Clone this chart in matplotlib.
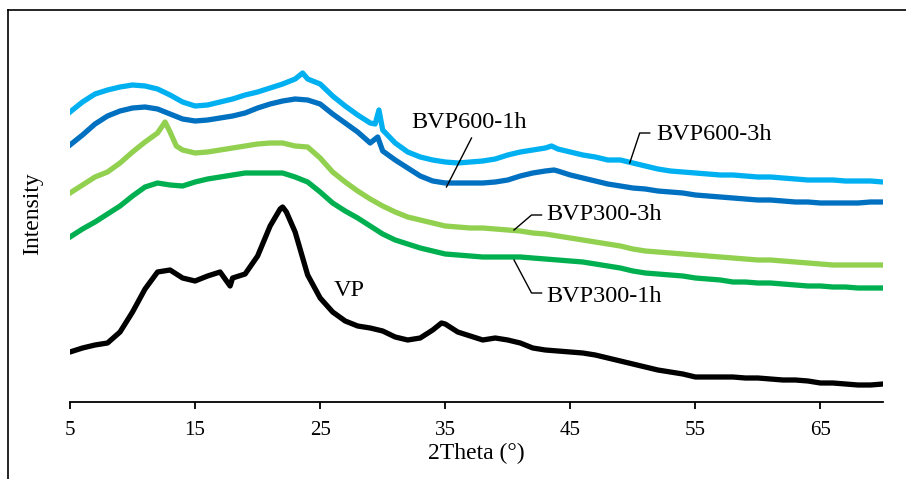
import matplotlib
matplotlib.use('Agg')
import matplotlib.pyplot as plt
from matplotlib.lines import Line2D
import numpy as np

plt.rcParams['font.family'] = ['Liberation Serif', 'DejaVu Serif']

# XRD patterns, (2theta, intensity a.u.)
vp = [(5, 50), (6, 54), (7, 57), (8, 59), (9, 70), (10, 90), (11, 113), (12, 130), (13, 132),
      (14, 124), (15, 121), (16, 126), (17, 130), (17.8, 116), (18, 124), (19, 128), (20, 146),
      (21, 176), (21.8, 193), (22, 195), (22.3, 190), (23, 170), (24, 127), (25, 104), (26, 90),
      (27, 81), (28, 76), (29, 74), (30, 71), (31, 65), (32, 62), (33, 64), (34, 72), (34.7, 79),
      (35, 78), (36, 70), (37, 66), (38, 62), (39, 64), (40, 62), (41, 59), (42, 54), (43, 52),
      (44, 51), (45, 50), (46, 49), (47, 47), (48, 44), (49, 41), (50, 38), (51, 35), (52, 32),
      (53, 30), (54, 28), (55, 25), (56, 25), (57, 25), (58, 25), (59, 24), (60, 24), (61, 23),
      (62, 22), (63, 22), (64, 21), (65, 19), (66, 19), (67, 18), (68, 17), (69, 17), (70, 18)]

bvp300_1h = [(5, 165), (6, 173), (7, 180), (8, 188), (9, 196), (10, 206), (11, 215), (12, 219),
             (13, 217), (14, 216), (15, 220), (16, 223), (17, 225), (18, 227), (19, 229), (20, 229),
             (21, 229), (22, 229), (23, 225), (24, 220), (25, 210), (26, 199), (27, 191), (28, 184),
             (29, 176), (30, 168), (31, 162), (32, 158), (33, 154), (34, 151), (35, 148), (36, 147),
             (37, 146), (38, 145), (39, 145), (40, 145), (41, 145), (42, 144), (43, 143), (44, 142),
             (45, 141), (46, 140), (47, 138), (48, 136), (49, 134), (50, 131), (51, 129), (52, 128),
             (53, 127), (54, 126), (55, 124), (56, 123), (57, 122), (58, 120), (59, 120), (60, 119),
             (61, 119), (62, 118), (63, 117), (64, 116), (65, 116), (66, 115), (67, 115), (68, 114),
             (69, 114), (70, 114)]

bvp300_3h = [(5, 209), (6, 217), (7, 225), (8, 230), (9, 239), (10, 250), (11, 260), (12, 269),
             (12.6, 280), (13, 270), (13.5, 256), (14, 252), (15, 249), (16, 250), (17, 252),
             (18, 254), (19, 256), (20, 258), (21, 259), (22, 259), (23, 256), (24, 255), (25, 244),
             (26, 230), (27, 220), (28, 211), (29, 203), (30, 196), (31, 190), (32, 185), (33, 182),
             (34, 179), (35, 176), (36, 175), (37, 174), (38, 174), (39, 173), (40, 172), (41, 171),
             (42, 169), (43, 168), (44, 166), (45, 164), (46, 162), (47, 160), (48, 158), (49, 156),
             (50, 153), (51, 151), (52, 150), (53, 149), (54, 148), (55, 147), (56, 146), (57, 145),
             (58, 144), (59, 143), (60, 142), (61, 142), (62, 141), (63, 140), (64, 139), (65, 138),
             (66, 137), (67, 137), (68, 137), (69, 137), (70, 137)]

bvp600_1h = [(5, 257), (6, 267), (7, 278), (8, 286), (9, 291), (10, 294), (11, 295), (12, 293),
             (13, 288), (14, 283), (15, 281), (16, 282), (17, 284), (18, 286), (19, 289), (20, 294),
             (21, 298), (22, 301), (23, 303), (24, 302), (25, 298), (26, 288), (27, 279), (28, 270),
             (29, 259), (29.6, 265), (30, 251), (31, 242), (32, 234), (33, 226), (34, 221), (35, 219),
             (36, 219), (37, 219), (38, 219), (39, 220), (40, 222), (41, 226), (42, 229), (43, 231),
             (43.7, 232), (44, 231), (45, 227), (46, 224), (47, 221), (48, 218), (49, 216), (50, 214),
             (51, 213), (52, 211), (53, 210), (54, 209), (55, 207), (56, 206), (57, 205), (58, 204),
             (59, 203), (60, 202), (61, 202), (62, 201), (63, 200), (64, 200), (65, 199), (66, 199),
             (67, 199), (68, 199), (69, 200), (70, 200)]

bvp600_3h = [(5, 290), (6, 300), (7, 308), (8, 312), (9, 315), (10, 317), (11, 316), (12, 313),
             (13, 307), (14, 300), (15, 296), (16, 297), (17, 300), (18, 303), (19, 307), (20, 310),
             (21, 314), (22, 318), (23, 323), (23.6, 329), (24, 323), (25, 318), (26, 306), (27, 296),
             (28, 287), (29, 279), (29.4, 278), (29.7, 292), (30, 272), (31, 259), (32, 250),
             (33, 245), (34, 242), (35, 240), (36, 239), (37, 240), (38, 241), (39, 243), (40, 247),
             (41, 250), (42, 252), (43, 254), (43.5, 256), (44, 253), (45, 250), (46, 247), (47, 245),
             (48, 242), (49, 242), (50, 239), (51, 236), (52, 233), (53, 231), (54, 230), (55, 229),
             (56, 228), (57, 227), (58, 227), (59, 226), (60, 225), (61, 225), (62, 224), (63, 223),
             (64, 222), (65, 222), (66, 222), (67, 221), (68, 221), (69, 221), (70, 220)]

series = [
    (vp, '#000000'),
    (bvp300_1h, '#00B050'),
    (bvp300_3h, '#92D050'),
    (bvp600_1h, '#0070C0'),
    (bvp600_3h, '#00B0F0'),
]

xticks = [5, 15, 25, 35, 45, 55, 65]

W, H = 906, 479
fig = plt.figure(figsize=(W / 100, H / 100), dpi=100)
ax = fig.add_axes([70 / W, 1 - 402 / H, (883 - 70) / W, (402 - 30) / H])

for data, color in series:
    arr = np.array(data, dtype=float)
    ax.plot(arr[:, 0], arr[:, 1], color=color, lw=3.8, solid_joinstyle='round')

ax.set_xlim(5, 70)
ax.set_ylim(0, 372)
ax.set_xticks(xticks)
ax.set_yticks([])
for side in ('top', 'right', 'left'):
    ax.spines[side].set_visible(False)
ax.spines['bottom'].set_linewidth(1.3)
ax.tick_params(axis='x', direction='out', length=5, width=1.3, pad=9, labelsize=15)
ax.set_xlabel('2Theta (°)', fontsize=17, labelpad=2)
fig.text(33 / W, 1 - 214 / H, 'Intensity', rotation=90, fontsize=17,
         ha='center', va='center')

# sample labels with leader lines
lab = dict(fontsize=17.5, va='center')
ax.text(36.9, 280, 'BVP600-1h', ha='center', **lab)
ax.plot([37.1, 35.1], [264, 215], color='black', lw=1)
ax.text(51.9, 267, 'BVP600-3h', ha='left', **lab)
ax.plot([51.35, 50.55, 49.75], [269, 269, 239], color='black', lw=1)
ax.text(43.1, 187, 'BVP300-3h', ha='left', **lab)
ax.plot([42.7, 41.9, 40.5], [187, 187, 172], color='black', lw=1)
ax.text(43.1, 106, 'BVP300-1h', ha='left', **lab)
ax.plot([40.5, 41.9, 42.7], [142, 109, 109], color='black', lw=1)
ax.text(26.1, 112, 'VP', ha='left', **lab)

# outer frame (left and top edges only are visible)
fig.add_artist(Line2D([8 / W, 8 / W], [0, 1 - 10 / H], color='black', lw=1.2))
fig.add_artist(Line2D([8 / W, 1], [1 - 10 / H, 1 - 10 / H], color='black', lw=1.2))

fig.savefig('out.png', dpi=100)
